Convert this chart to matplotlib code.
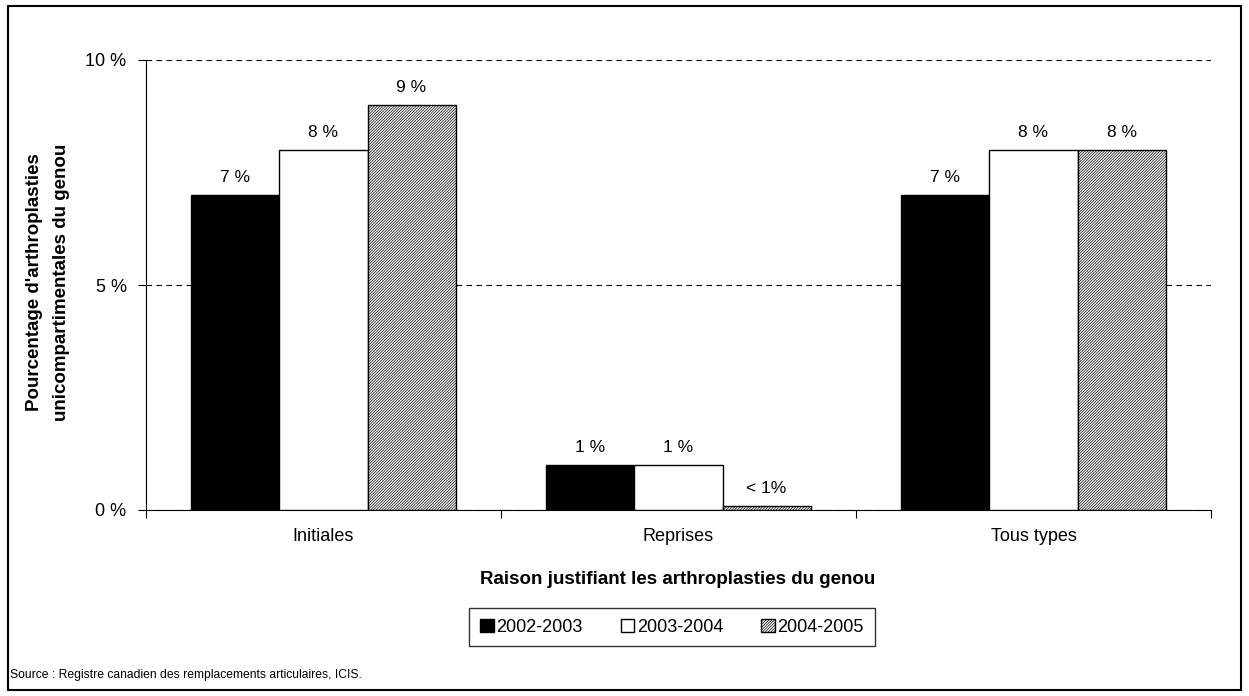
import numpy as np
import matplotlib
matplotlib.use("Agg")
import matplotlib.pyplot as plt
from matplotlib.patches import Rectangle

plt.rcParams["font.family"] = ["Liberation Sans", "DejaVu Sans"]
plt.rcParams["hatch.linewidth"] = 0.5

categories = ["Initiales", "Reprises", "Tous types"]
years = ["2002-2003", "2003-2004", "2004-2005"]
values = {
    "2002-2003": [7, 1, 7],
    "2003-2004": [8, 1, 8],
    "2004-2005": [9, 0.1, 8],
}
bar_labels = {
    "2002-2003": ["7 %", "1 %", "7 %"],
    "2003-2004": ["8 %", "1 %", "8 %"],
    "2004-2005": ["9 %", "< 1%", "8 %"],
}
styles = {
    "2002-2003": dict(facecolor="black", hatch=None),
    "2003-2004": dict(facecolor="white", hatch=None),
    "2004-2005": dict(facecolor="white", hatch="////////////"),
}

W, H = 1249, 696
fig = plt.figure(figsize=(W / 100, H / 100), dpi=100)
ax = fig.add_axes([146 / W, 1 - 510 / H, (1211 - 146) / W, 450 / H])

x = np.arange(len(categories))
width = 0.248
for i, yr in enumerate(years):
    pos = x + (i - 1) * width
    bars = ax.bar(pos, values[yr], width, edgecolor="black", linewidth=1.0,
                  label=yr, zorder=3, **styles[yr])
    for b, lab in zip(bars, bar_labels[yr]):
        ax.text(b.get_x() + b.get_width() / 2, b.get_height() + 0.22, lab,
                ha="center", va="bottom", fontsize=12.5)

ax.set_xlim(-0.5, 2.5)
ax.set_ylim(0, 10)
ax.set_yticks([0, 5, 10])
ax.set_yticklabels(["0 %", "5 %", "10 %"], fontsize=13)
ax.yaxis.grid(True, linestyle=(0, (5, 4)), color="black", linewidth=0.8)
ax.set_axisbelow(True)
ax.set_xticks([-0.5, 0.5, 1.5, 2.5])
ax.set_xticklabels([])
ax.set_xticks(x, minor=True)
ax.set_xticklabels(categories, minor=True, fontsize=13)
ax.tick_params(axis="x", which="minor", length=0, pad=13)
ax.tick_params(axis="x", which="major", length=6, direction="out")
ax.tick_params(axis="y", length=6, direction="out", pad=8)
for s in ["top", "right"]:
    ax.spines[s].set_visible(False)

fig.text(48 / W, 1 - 282 / H,
         "Pourcentage d'arthroplasties\nunicompartimentales du genou",
         fontsize=13.5, fontweight="bold", rotation=90, ha="center",
         va="center", multialignment="center", linespacing=1.75)
fig.text(678 / W, 1 - 579 / H, "Raison justifiant les arthroplasties du genou",
         fontsize=13.5, fontweight="bold", ha="center", va="center")

leg = ax.legend(loc="center", bbox_to_anchor=(672 / W, 1 - 627 / H),
                bbox_transform=fig.transFigure, ncol=3, frameon=True,
                fancybox=False, edgecolor="black", fontsize=13,
                handlelength=0.75, handleheight=0.75, handletextpad=0.15,
                columnspacing=2.1, borderpad=0.6)
leg.get_frame().set_linewidth(1.0)

fig.text(10 / W, 1 - 675 / H,
         "Source : Registre canadien des remplacements articulaires, ICIS.",
         fontsize=8.7, va="center", ha="left")

fig.patches.append(Rectangle((8 / W, 6 / H), 1233 / W, 684 / H,
                             transform=fig.transFigure, fill=False,
                             edgecolor="black", linewidth=1.5))

fig.savefig("out.png", dpi=100)
